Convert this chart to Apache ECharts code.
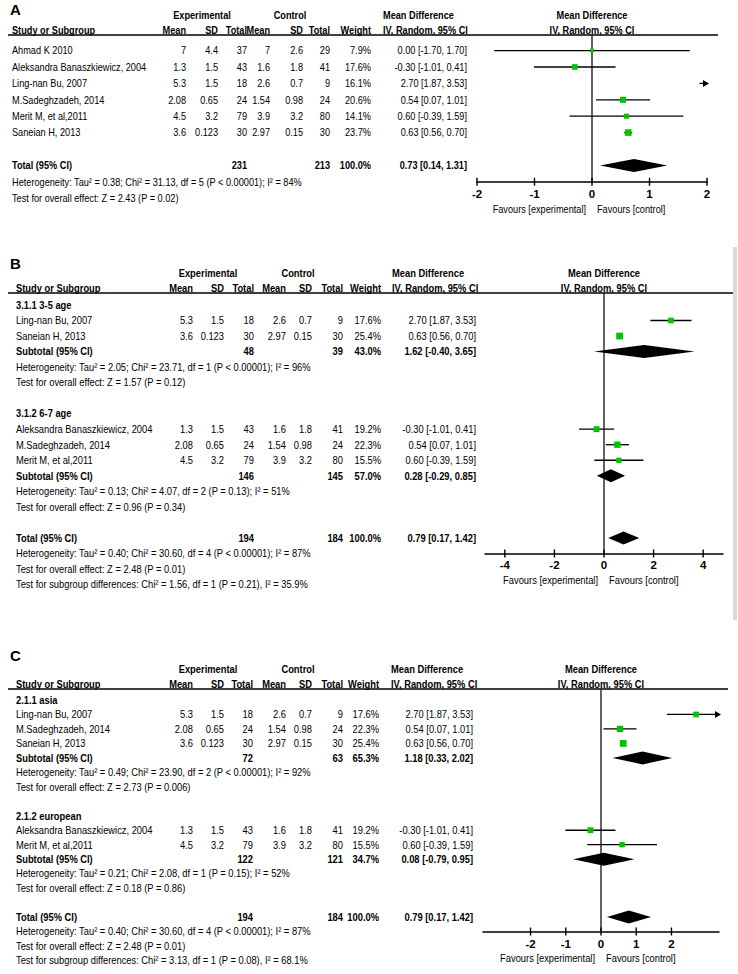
<!DOCTYPE html>
<html><head><meta charset="utf-8">
<script src="https://cdn.jsdelivr.net/npm/echarts@6.0.0/dist/echarts.min.js"></script>
<style>html,body{margin:0;padding:0;background:#fff}#c{width:738px;height:974px}</style>
</head><body><div id="c"></div>
<script>
// ---------------- DATA ----------------
const studyNames = ["Ahmad K 2010", "Aleksandra Banaszkiewicz, 2004", "Ling-nan Bu, 2007", "M.Sadeghzadeh, 2014", "Merit M, et al,2011", "Saneian H, 2013"];
const expMean = [7, 1.3, 5.3, 2.08, 4.5, 3.6];
const expSD   = [4.4, 1.5, 1.5, 0.65, 3.2, 0.123];
const expN    = [37, 43, 18, 24, 79, 30];
const ctlMean = [7, 1.6, 2.6, 1.54, 3.9, 2.97];
const ctlSD   = [2.6, 1.8, 0.7, 0.98, 3.2, 0.15];
const ctlN    = [29, 41, 9, 24, 80, 30];
const mdEst   = [0.00, -0.30, 2.70, 0.54, 0.60, 0.63];
const mdLow   = [-1.70, -1.01, 1.87, 0.07, -0.39, 0.56];
const mdHigh  = [1.70, 0.41, 3.53, 1.01, 1.59, 0.70];
const colHeaders = ["Mean", "SD", "Total", "Mean", "SD", "Total", "Weight"];

// Panel A
const groupStudiesA = [[0, 1, 2, 3, 4, 5]];
const weightA = [7.9, 17.6, 16.1, 20.6, 14.1, 23.7];
const totalA = [231, 213, 100.0, 0.73, 0.14, 1.31];
const totalNotesA = ["Heterogeneity: Tau² = 0.38; Chi² = 31.13, df = 5 (P < 0.00001); I² = 84%", "Test for overall effect: Z = 2.43 (P = 0.02)"];
const ticksA = [-2, -1, 0, 1, 2];

// Panel B
const groupTitlesB = ["3.1.1 3-5 age", "3.1.2 6-7 age"];
const groupStudiesB = [[2, 5], [1, 3, 4]];
const weightB = [null, 19.2, 17.6, 22.3, 15.5, 25.4];
const subtotalsB = [[48, 39, 43.0, 1.62, -0.40, 3.65], [146, 145, 57.0, 0.28, -0.29, 0.85]];
const subNotesB = [
  ["Heterogeneity: Tau² = 2.05; Chi² = 23.71, df = 1 (P < 0.00001); I² = 96%", "Test for overall effect: Z = 1.57 (P = 0.12)"],
  ["Heterogeneity: Tau² = 0.13; Chi² = 4.07, df = 2 (P = 0.13); I² = 51%", "Test for overall effect: Z = 0.96 (P = 0.34)"]
];
const totalB = [194, 184, 100.0, 0.79, 0.17, 1.42];
const totalNotesB = ["Heterogeneity: Tau² = 0.40; Chi² = 30.60, df = 4 (P < 0.00001); I² = 87%", "Test for overall effect: Z = 2.48 (P = 0.01)", "Test for subgroup differences: Chi² = 1.56, df = 1 (P = 0.21), I² = 35.9%"];
const ticksB = [-4, -2, 0, 2, 4];

// Panel C
const groupTitlesC = ["2.1.1 asia", "2.1.2 european"];
const groupStudiesC = [[2, 3, 5], [1, 4]];
const weightC = [null, 19.2, 17.6, 22.3, 15.5, 25.4];
const subtotalsC = [[72, 63, 65.3, 1.18, 0.33, 2.02], [122, 121, 34.7, 0.08, -0.79, 0.95]];
const subNotesC = [
  ["Heterogeneity: Tau² = 0.49; Chi² = 23.90, df = 2 (P < 0.00001); I² = 92%", "Test for overall effect: Z = 2.73 (P = 0.006)"],
  ["Heterogeneity: Tau² = 0.21; Chi² = 2.08, df = 1 (P = 0.15); I² = 52%", "Test for overall effect: Z = 0.18 (P = 0.86)"]
];
const totalC = [194, 184, 100.0, 0.79, 0.17, 1.42];
const totalNotesC = ["Heterogeneity: Tau² = 0.40; Chi² = 30.60, df = 4 (P < 0.00001); I² = 87%", "Test for overall effect: Z = 2.48 (P = 0.01)", "Test for subgroup differences: Chi² = 3.13, df = 1 (P = 0.08), I² = 68.1%"];
const ticksC = [-2, -1, 0, 1, 2];

// ---------------- LAYOUT ----------------
const layoutA = {letter: 'A', letterY: 9, lineY: 35, step: 16.4, yMin: -0.95, xRange: [-2, 2], gridLeft: 477, gridRight: 707, lineEnd: 718,
  nameX: 12, cols: [186, 218, 247, 270, 303, 330, 371], mdRight: 467, mdHdrLeft: 383, expC: 202, ctlC: 290, fs: 11.2};
const layoutB = {letter: 'B', letterY: 263, lineY: 293, step: 15.53, yMin: -0.77, xRange: [-4.8, 4.8], gridLeft: 485, gridRight: 723, lineEnd: 733,
  nameX: 16, cols: [193, 224, 254, 286, 312, 343, 381], mdRight: 476, mdHdrLeft: 392, expC: 208, ctlC: 298, fs: 11.4};
const layoutC = {letter: 'C', letterY: 655, lineY: 689, step: 14.47, yMin: -0.76, xRange: [-3.35, 3.35], gridLeft: 483, gridRight: 719, lineEnd: 728,
  nameX: 16, cols: [193, 224, 253, 286, 312, 343, 379], mdRight: 473, mdHdrLeft: 391, expC: 208, ctlC: 298, fs: 11.4};

function pickFont() {
  try {
    const ctx = document.createElement('canvas').getContext('2d');
    const t = 'Aleksandra Banaszkiewicz, 2004';
    const m = f => { ctx.font = '40px ' + f; return ctx.measureText(t).width; };
    const base = m('monospace');
    if (Math.abs(m('"Liberation Sans Narrow", monospace') - base) > 0.5) return {family: 'Liberation Sans Narrow', sx: 1};
  } catch (e) {}
  return {family: 'Liberation Sans', sx: 0.82};
}
const FONT = pickFont();

function T(x, y, text, o) {
  o = o || {};
  return {type: 'text', x: x, y: y, scaleX: o.sx != null ? o.sx : FONT.sx, silent: true,
    style: {text: text, x: 0, y: 0, fill: '#000', fontSize: o.fs, fontFamily: o.family || FONT.family,
      fontWeight: o.bold ? 'bold' : 'normal', align: o.align || 'left', verticalAlign: 'middle'}};
}
function L(x1, y1, x2, y2, w, c) {
  return {type: 'line', silent: true, shape: {x1: x1, y1: y1, x2: x2, y2: y2}, style: {stroke: c || '#000', lineWidth: w || 1.3}};
}
const fmt2 = v => v.toFixed(2);
const mdText = (e, l, h) => fmt2(e) + ' [' + fmt2(l) + ', ' + fmt2(h) + ']';

function buildRows(titles, groups, weights, subtotals, subNotes, total, totalNotes, yMin) {
  const rows = [{kind: 'frame', idx: yMin}];
  let i = 0;
  groups.forEach((g, gi) => {
    if (gi > 0) i++;
    if (titles) rows.push({kind: 'title', text: titles[gi], idx: i++});
    g.forEach(s => rows.push({kind: 'study', s: s, w: weights[s], idx: i++}));
    if (subtotals) {
      rows.push({kind: 'sum', label: 'Subtotal (95% CI)', v: subtotals[gi], idx: i++});
      subNotes[gi].forEach(t => rows.push({kind: 'note', text: t, idx: i++}));
    }
  });
  i++;
  rows.push({kind: 'sum', label: 'Total (95% CI)', v: total, idx: i++});
  const axisIdx = i;
  totalNotes.forEach(t => rows.push({kind: 'note', text: t, idx: i++}));
  return {rows: rows, axisIdx: axisIdx};
}

const panels = [
  {lay: layoutA, ticks: ticksA, built: buildRows(null, groupStudiesA, weightA, null, null, totalA, totalNotesA, layoutA.yMin)},
  {lay: layoutB, ticks: ticksB, built: buildRows(groupTitlesB, groupStudiesB, weightB, subtotalsB, subNotesB, totalB, totalNotesB, layoutB.yMin)},
  {lay: layoutC, ticks: ticksC, built: buildRows(groupTitlesC, groupStudiesC, weightC, subtotalsC, subNotesC, totalC, totalNotesC, layoutC.yMin)}
];

const GREEN = '#00c400';

function makeRenderer(P) {
  const lay = P.lay, rows = P.built.rows, yMax = P.built.axisIdx;
  const [xmin, xmax] = lay.xRange;
  const fs = lay.fs;
  return function (params, api) {
    const r = rows[params.dataIndex];
    const y = api.coord([0, r.idx])[1];
    const X = v => api.coord([v, r.idx])[0];
    const ch = [];
    if (r.kind === 'frame') {
      const ly = y;
      const axisY = api.coord([0, yMax])[1];
      const x0 = X(0);
      ch.push(T(10, lay.letterY, lay.letter, {fs: 15, bold: true, sx: 1, family: 'Liberation Sans'}));
      ch.push(L(8, ly, lay.lineEnd, ly, 1.5));
      ch.push(T(lay.expC, ly - 20, 'Experimental', {fs: fs, bold: true, align: 'center'}));
      ch.push(T(lay.ctlC, ly - 20, 'Control', {fs: fs, bold: true, align: 'center'}));
      ch.push(T(lay.nameX, ly - 5, 'Study or Subgroup', {fs: fs, bold: true}));
      colHeaders.forEach((h, k) => ch.push(T(lay.cols[k], ly - 5, h, {fs: fs, bold: true, align: 'right'})));
      ch.push(T(lay.mdHdrLeft, ly - 20, 'Mean Difference', {fs: fs, bold: true}));
      ch.push(T(lay.mdHdrLeft, ly - 5, 'IV, Random, 95% CI', {fs: fs, bold: true}));
      ch.push(T(x0, ly - 20, 'Mean Difference', {fs: fs, bold: true, align: 'center'}));
      ch.push(T(x0, ly - 5, 'IV, Random, 95% CI', {fs: fs, bold: true, align: 'center'}));
      ch.push(L(x0, ly, x0, axisY, 1.4, '#222'));
      P.ticks.forEach(t => { const tx = api.coord([t, yMax])[0]; ch.push(L(tx, axisY - 4, tx, axisY + 4, 1.4)); });
      ch.push(T(x0 - 6, axisY + 27, 'Favours [experimental]', {fs: fs, align: 'right'}));
      ch.push(T(x0 + 5, axisY + 27, 'Favours [control]', {fs: fs}));
    } else if (r.kind === 'title') {
      ch.push(T(lay.nameX, y, r.text, {fs: fs, bold: true}));
    } else if (r.kind === 'note') {
      ch.push(T(lay.nameX, y, r.text, {fs: fs}));
    } else if (r.kind === 'study') {
      const s = r.s;
      ch.push(T(lay.nameX, y, studyNames[s], {fs: fs}));
      [expMean[s], expSD[s], expN[s], ctlMean[s], ctlSD[s], ctlN[s]].forEach((v, k) =>
        ch.push(T(lay.cols[k], y, String(v), {fs: fs, align: 'right'})));
      ch.push(T(lay.cols[6], y, r.w.toFixed(1) + '%', {fs: fs, align: 'right'}));
      ch.push(T(lay.mdRight, y, mdText(mdEst[s], mdLow[s], mdHigh[s]), {fs: fs, align: 'right'}));
      const lo = Math.max(mdLow[s], xmin), hi = Math.min(mdHigh[s], xmax);
      if (hi > lo) ch.push(L(X(lo), y, X(hi), y, 1.3));
      if (mdHigh[s] > xmax) {
        const tip = X(xmax) + 2;
        ch.push({type: 'polygon', silent: true, shape: {points: [[tip - 6, y - 3.5], [tip, y], [tip - 6, y + 3.5]]}, style: {fill: '#000'}});
      }
      if (mdLow[s] < xmin) {
        const tip = X(xmin) - 2;
        ch.push({type: 'polygon', silent: true, shape: {points: [[tip + 6, y - 3.5], [tip, y], [tip + 6, y + 3.5]]}, style: {fill: '#000'}});
      }
      if (mdEst[s] >= xmin && mdEst[s] <= xmax) {
        const sz = 1.35 * Math.sqrt(r.w);
        ch.push({type: 'rect', silent: true, shape: {x: X(mdEst[s]) - sz / 2, y: y - sz / 2, width: sz, height: sz}, style: {fill: GREEN}});
      }
    } else if (r.kind === 'sum') {
      const v = r.v;
      ch.push(T(lay.nameX, y, r.label, {fs: fs, bold: true}));
      ch.push(T(lay.cols[2], y, String(v[0]), {fs: fs, bold: true, align: 'right'}));
      ch.push(T(lay.cols[5], y, String(v[1]), {fs: fs, bold: true, align: 'right'}));
      ch.push(T(lay.cols[6], y, v[2].toFixed(1) + '%', {fs: fs, bold: true, align: 'right'}));
      ch.push(T(lay.mdRight, y, mdText(v[3], v[4], v[5]), {fs: fs, bold: true, align: 'right'}));
      const h = 6.5;
      ch.push({type: 'polygon', silent: true, shape: {points: [[X(v[4]), y], [X(v[3]), y - h], [X(v[5]), y], [X(v[3]), y + h]]}, style: {fill: '#000'}});
    }
    return {type: 'group', children: ch};
  };
}

const chart = echarts.init(document.getElementById('c'), null, {renderer: 'svg', width: 738, height: 974});
const option = {
  backgroundColor: '#fff',
  animation: false,
  grid: panels.map(P => ({
    left: P.lay.gridLeft, width: P.lay.gridRight - P.lay.gridLeft,
    top: P.lay.lineY, height: (P.built.axisIdx - P.lay.yMin) * P.lay.step
  })),
  xAxis: panels.map((P, i) => ({
    gridIndex: i, type: 'value', position: 'bottom', min: P.lay.xRange[0], max: P.lay.xRange[1],
    axisLine: {onZero: false, lineStyle: {color: '#000', width: 1.5}},
    axisTick: {show: false}, splitLine: {show: false},
    axisLabel: {customValues: P.ticks, margin: 6, color: '#000', fontWeight: 'bold', fontSize: 11.5, fontFamily: FONT.family}
  })),
  yAxis: panels.map((P, i) => ({
    gridIndex: i, type: 'value', inverse: true, min: P.lay.yMin, max: P.built.axisIdx, show: false
  })),
  graphic: [{type: 'rect', shape: {x: 733, y: 247, width: 4, height: 373}, style: {fill: '#d9d9d9'}, silent: true}],
  series: panels.map((P, i) => ({
    type: 'custom', xAxisIndex: i, yAxisIndex: i, silent: true, clip: false,
    encode: {x: 0, y: 1},
    data: P.built.rows.map(r => [0, r.idx]),
    renderItem: makeRenderer(P)
  }))
};
chart.setOption(option);
</script>
</body></html>
